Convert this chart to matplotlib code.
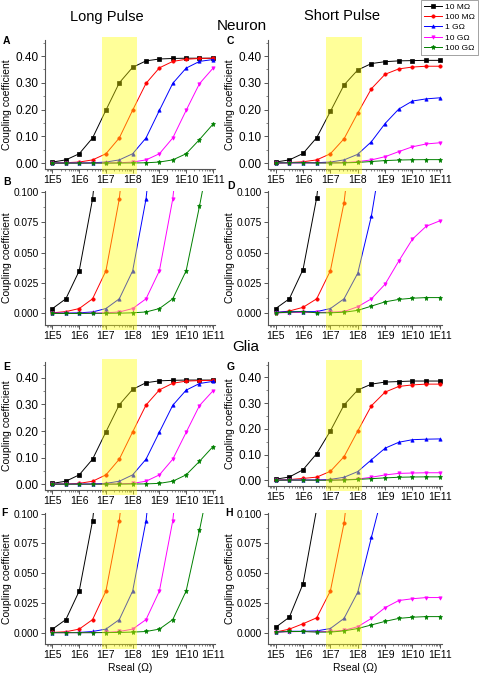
import numpy as np
import matplotlib
matplotlib.use("Agg")
import matplotlib.pyplot as plt
from matplotlib.ticker import FixedLocator, FuncFormatter, LogLocator, NullFormatter, MultipleLocator

plt.rcParams['font.family'] = ['Liberation Sans', 'DejaVu Sans']

# Rseal values (Ohm), half-decade steps
RSEAL = [1e5, 3.16e5, 1e6, 3.16e6, 1e7, 3.16e7, 1e8, 3.16e8, 1e9, 3.16e9, 1e10, 3.16e10, 1e11]

SERIES = ["10 M\u03a9", "100 M\u03a9", "1 G\u03a9", "10 G\u03a9", "100 G\u03a9"]
COLORS = ["#000000", "#ff0000", "#0000ff", "#ff00ff", "#008000"]
MARKERS = ["s", "o", "^", "v", "*"]

# Neuron, long pulse (panels A/B)
neu_long_10M = [0.004, 0.012, 0.035, 0.094, 0.198, 0.300, 0.358, 0.382, 0.389, 0.391, 0.392, 0.392, 0.392]
neu_long_100M = [0.0005, 0.0015, 0.004, 0.012, 0.035, 0.094, 0.198, 0.298, 0.356, 0.380, 0.388, 0.391, 0.392]
neu_long_1G = [0.0002, 0.0003, 0.0005, 0.0012, 0.004, 0.012, 0.035, 0.094, 0.197, 0.298, 0.355, 0.380, 0.387]
neu_long_10G = [0.0001, 0.0001, 0.0001, 0.0002, 0.0005, 0.0012, 0.004, 0.012, 0.035, 0.094, 0.197, 0.297, 0.354]
neu_long_100G = [0.0, 0.0, 0.0, 0.0001, 0.0001, 0.0002, 0.0005, 0.0012, 0.004, 0.012, 0.035, 0.088, 0.145]

# Neuron, short pulse (panels C/D)
neu_short_10M = [0.004, 0.012, 0.036, 0.095, 0.193, 0.292, 0.348, 0.372, 0.379, 0.382, 0.383, 0.384, 0.384]
neu_short_100M = [0.0005, 0.002, 0.005, 0.012, 0.035, 0.091, 0.187, 0.278, 0.332, 0.352, 0.359, 0.362, 0.362]
neu_short_1G = [0.001, 0.0015, 0.0015, 0.0015, 0.004, 0.012, 0.033, 0.080, 0.148, 0.202, 0.232, 0.240, 0.244]
neu_short_10G = [0.0005, 0.0007, 0.0008, 0.0008, 0.001, 0.0015, 0.0055, 0.012, 0.024, 0.043, 0.061, 0.0715, 0.076]
neu_short_100G = [0.0005, 0.001, 0.0015, 0.0005, 0.0005, 0.001, 0.0025, 0.006, 0.0095, 0.0115, 0.0125, 0.013, 0.013]

# Glia, long pulse (panels E/F)
glia_long_10M = [0.003, 0.011, 0.035, 0.094, 0.197, 0.299, 0.357, 0.382, 0.389, 0.391, 0.392, 0.392, 0.392]
glia_long_100M = [0.0002, 0.0008, 0.003, 0.011, 0.035, 0.094, 0.197, 0.298, 0.355, 0.380, 0.388, 0.390, 0.391]
glia_long_1G = [0.0001, 0.0001, 0.0002, 0.001, 0.003, 0.011, 0.035, 0.094, 0.196, 0.297, 0.354, 0.379, 0.387]
glia_long_10G = [0.0, 0.0, 0.0, 0.0001, 0.0002, 0.001, 0.003, 0.011, 0.035, 0.094, 0.195, 0.296, 0.351]
glia_long_100G = [0.0, 0.0, 0.0, 0.0, 0.0001, 0.0002, 0.0005, 0.001, 0.003, 0.011, 0.035, 0.086, 0.141]

# Glia, short pulse (panels G/H)
glia_short_10M = [0.0045, 0.013, 0.041, 0.104, 0.192, 0.293, 0.351, 0.374, 0.382, 0.384, 0.386, 0.386, 0.386]
glia_short_100M = [0.0005, 0.003, 0.0075, 0.0125, 0.035, 0.092, 0.192, 0.290, 0.343, 0.365, 0.371, 0.374, 0.374]
glia_short_1G = [0.0005, 0.0012, 0.0012, 0.0015, 0.0035, 0.012, 0.034, 0.080, 0.125, 0.148, 0.158, 0.160, 0.161]
glia_short_10G = [0.0005, 0.0008, 0.001, 0.0008, 0.001, 0.002, 0.005, 0.012, 0.021, 0.027, 0.0285, 0.0295, 0.0295]
glia_short_100G = [0.0005, 0.001, 0.001, 0.0005, 0.0005, 0.0015, 0.0035, 0.0065, 0.0095, 0.012, 0.013, 0.0135, 0.0135]

DATASETS = {
    "neu_long": [neu_long_10M, neu_long_100M, neu_long_1G, neu_long_10G, neu_long_100G],
    "neu_short": [neu_short_10M, neu_short_100M, neu_short_1G, neu_short_10G, neu_short_100G],
    "glia_long": [glia_long_10M, glia_long_100M, glia_long_1G, glia_long_10G, glia_long_100G],
    "glia_short": [glia_short_10M, glia_short_100M, glia_short_1G, glia_short_10G, glia_short_100G],
}

BAND = (7e6, 1.4e8)  # shaded Rseal range

W, H = 491, 673
fig = plt.figure(figsize=(W / 100, H / 100), dpi=100)

# panel layout in pixels: letter, dataset, full/zoom, axes box, letter position
PANELS = [
    ("A", "neu_long", "full", (45, 40, 170, 129), (3, 41)),
    ("C", "neu_short", "full", (268, 40, 174, 129), (227, 41)),
    ("B", "neu_long", "zoom", (45, 191, 170, 134), (3, 182)),
    ("D", "neu_short", "zoom", (268, 191, 174, 134), (227, 186)),
    ("E", "glia_long", "full", (45, 362, 170, 128), (3, 367)),
    ("G", "glia_short", "full", (268, 362, 174, 124), (227, 367)),
    ("F", "glia_long", "zoom", (45, 513, 170, 131), (1, 513)),
    ("H", "glia_short", "zoom", (268, 513, 174, 131), (225, 513)),
]

handles = None
for letter, key, kind, (left, top, w, h), (lx, ly) in PANELS:
    ax = fig.add_axes([left / W, 1 - (top + h) / H, w / W, h / H])
    lines = []
    for vals, lab, col, mk in zip(DATASETS[key], SERIES, COLORS, MARKERS):
        ln, = ax.plot(RSEAL, vals, color=col, marker=mk, ms=2.4 if mk != "*" else 3.6,
                      mew=0.5, lw=0.7, label=lab)
        lines.append(ln)
    if handles is None:
        handles = lines

    ax.set_xscale("log")
    ax.set_xlim(10 ** 4.72, 10 ** 11.08)
    ax.xaxis.set_major_locator(FixedLocator([10.0 ** k for k in range(5, 12)]))
    ax.xaxis.set_major_formatter(FuncFormatter(lambda v, p: "1E%d" % round(np.log10(v))))
    ax.xaxis.set_minor_locator(LogLocator(base=10, subs=np.arange(2, 10), numticks=20))
    ax.xaxis.set_minor_formatter(NullFormatter())

    if kind == "full":
        ax.set_ylim(-0.022, 0.46)
        ax.yaxis.set_major_locator(FixedLocator([0.0, 0.1, 0.2, 0.3, 0.4]))
        ax.yaxis.set_major_formatter(FuncFormatter(lambda v, p: "%.2f" % v))
        ax.yaxis.set_minor_locator(MultipleLocator(0.05))
        ysize = 8.5
    else:
        ax.set_ylim(-0.0095, 0.1005)
        ax.yaxis.set_major_locator(FixedLocator([0.0, 0.025, 0.05, 0.075, 0.1]))
        ax.yaxis.set_major_formatter(FuncFormatter(lambda v, p: "%.3f" % v))
        ax.yaxis.set_minor_locator(MultipleLocator(0.0125))
        ysize = 7.3

    for s in ("top", "right"):
        ax.spines[s].set_visible(False)
    for s in ("left", "bottom"):
        ax.spines[s].set_color("#555555")
        ax.spines[s].set_linewidth(0.8)
    ax.tick_params(axis="both", which="major", direction="out", length=3, width=0.7,
                   color="#555555", pad=1.5)
    ax.tick_params(axis="both", which="minor", direction="out", length=1.5, width=0.5,
                   color="#555555")
    ax.tick_params(axis="y", labelsize=ysize)
    ax.tick_params(axis="x", labelsize=7.5)

    ax.set_ylabel("Coupling coefficient", fontsize=7.5)
    ax.yaxis.set_label_coords(-33 / w, 0.5)
    if top > 500:
        ax.set_xlabel("Rseal (\u03a9)", fontsize=7.5, labelpad=2)

    # yellow shaded band drawn on top, reaching a little past the frame
    ax.axvspan(BAND[0], BAND[1], ymin=-0.04, ymax=1.02, color="#ffff00", alpha=0.4,
               lw=0, zorder=5, clip_on=False)

    fig.text(lx / W, 1 - ly / H, letter, fontsize=7.5, fontweight="bold",
             ha="left", va="center")

# column / row titles
fig.text(107 / W, 1 - 17 / H, "Long Pulse", fontsize=10.5, ha="center", va="center")
fig.text(342 / W, 1 - 16 / H, "Short Pulse", fontsize=10.5, ha="center", va="center")
fig.text(242 / W, 1 - 26 / H, "Neuron", fontsize=11, ha="center", va="center")
fig.text(246 / W, 1 - 347 / H, "Glia", fontsize=11, ha="center", va="center")

leg = fig.legend(handles=handles, loc="upper right", bbox_to_anchor=(478 / W, 1.0),
                 fontsize=6, frameon=True, fancybox=False, handlelength=2.2,
                 handletextpad=0.4, borderpad=0.35, labelspacing=0.3, borderaxespad=0)
leg.get_frame().set_edgecolor("#777777")
leg.get_frame().set_linewidth(0.6)

fig.savefig("out.png", dpi=100)
